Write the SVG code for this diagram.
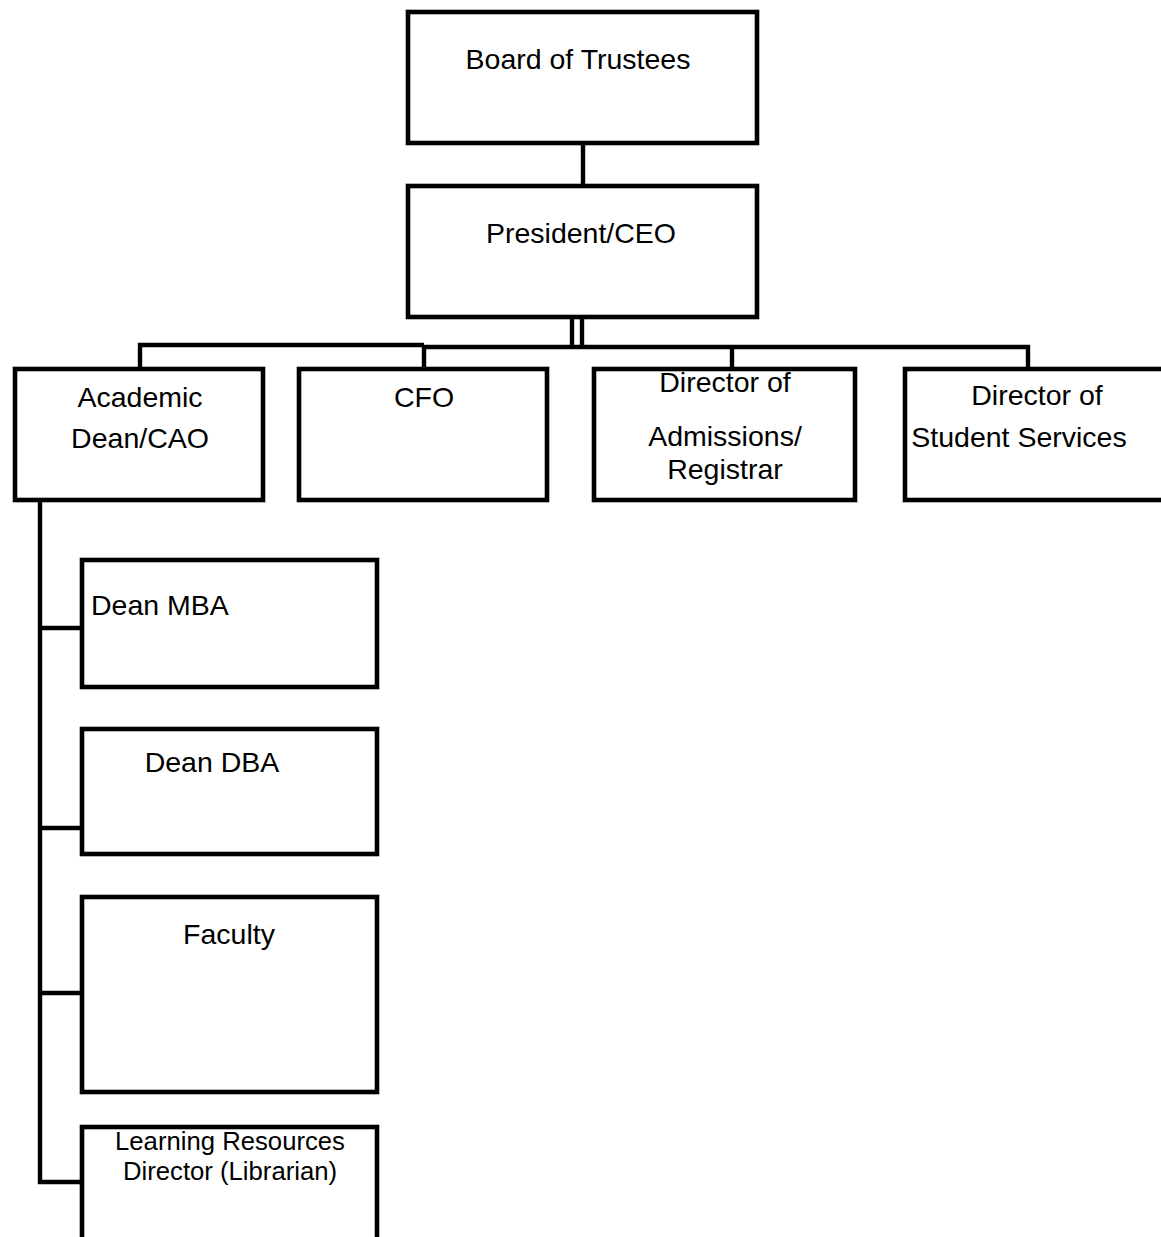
<svg xmlns="http://www.w3.org/2000/svg" width="1161" height="1237" viewBox="0 0 1161 1237">
<style>
.box{fill:#fff;stroke:#000;stroke-width:4.6}
.ln{fill:none;stroke:#000;stroke-width:4.4}
text{font-family:"Liberation Sans",Arial,sans-serif;font-size:28.5px;fill:#000}
.c{text-anchor:middle}
.s{font-size:25.7px}
</style>
<rect width="1161" height="1237" fill="#fff"/>
<g id="connectors">
<line class="ln" x1="583" y1="144" x2="583" y2="186"/>
<line class="ln" x1="572" y1="318" x2="572" y2="347"/>
<line class="ln" x1="582" y1="318" x2="582" y2="347"/>
<polyline class="ln" points="140,369 140,345 424,345"/>
<polyline class="ln" points="424,369 424,347 1028,347 1028,369"/>
<line class="ln" x1="732" y1="347" x2="732" y2="369"/>
<polyline class="ln" points="40,501 40,1182 82,1182"/>
<line class="ln" x1="40" y1="628" x2="82" y2="628"/>
<line class="ln" x1="40" y1="828" x2="82" y2="828"/>
<line class="ln" x1="40" y1="993" x2="82" y2="993"/>
</g>
<g id="board"><rect class="box" x="408" y="12" width="349" height="131"/><text class="c" x="578" y="69">Board of Trustees</text></g>
<g id="president"><rect class="box" x="408" y="186" width="349" height="131"/><text class="c" x="581" y="243">President/CEO</text></g>
<g id="academic"><rect class="box" x="15" y="369" width="248" height="131"/><text class="c" x="140" y="407">Academic</text><text class="c" x="140" y="448">Dean/CAO</text></g>
<g id="cfo"><rect class="box" x="299" y="369" width="248" height="131"/><text class="c" x="424" y="407">CFO</text></g>
<g id="admissions"><rect class="box" x="594" y="369" width="261" height="131"/><text class="c" x="725" y="392">Director of</text><text class="c" x="725" y="446">Admissions/</text><text class="c" x="725" y="479">Registrar</text></g>
<g id="studentservices"><rect class="box" x="905" y="369" width="270" height="131"/><text class="c" x="1037" y="405">Director of</text><text class="c" x="1019" y="447">Student Services</text></g>
<g id="deanmba"><rect class="box" x="82" y="560" width="295" height="127"/><text x="91" y="615">Dean MBA</text></g>
<g id="deandba"><rect class="box" x="82" y="729" width="295" height="125"/><text class="c" x="212" y="772">Dean DBA</text></g>
<g id="faculty"><rect class="box" x="82" y="897" width="295" height="195"/><text class="c" x="229" y="944">Faculty</text></g>
<g id="librarian"><rect class="box" x="82" y="1127" width="295" height="140"/><text class="c s" x="230" y="1150">Learning Resources</text><text class="c s" x="230" y="1180">Director (Librarian)</text></g>
</svg>
